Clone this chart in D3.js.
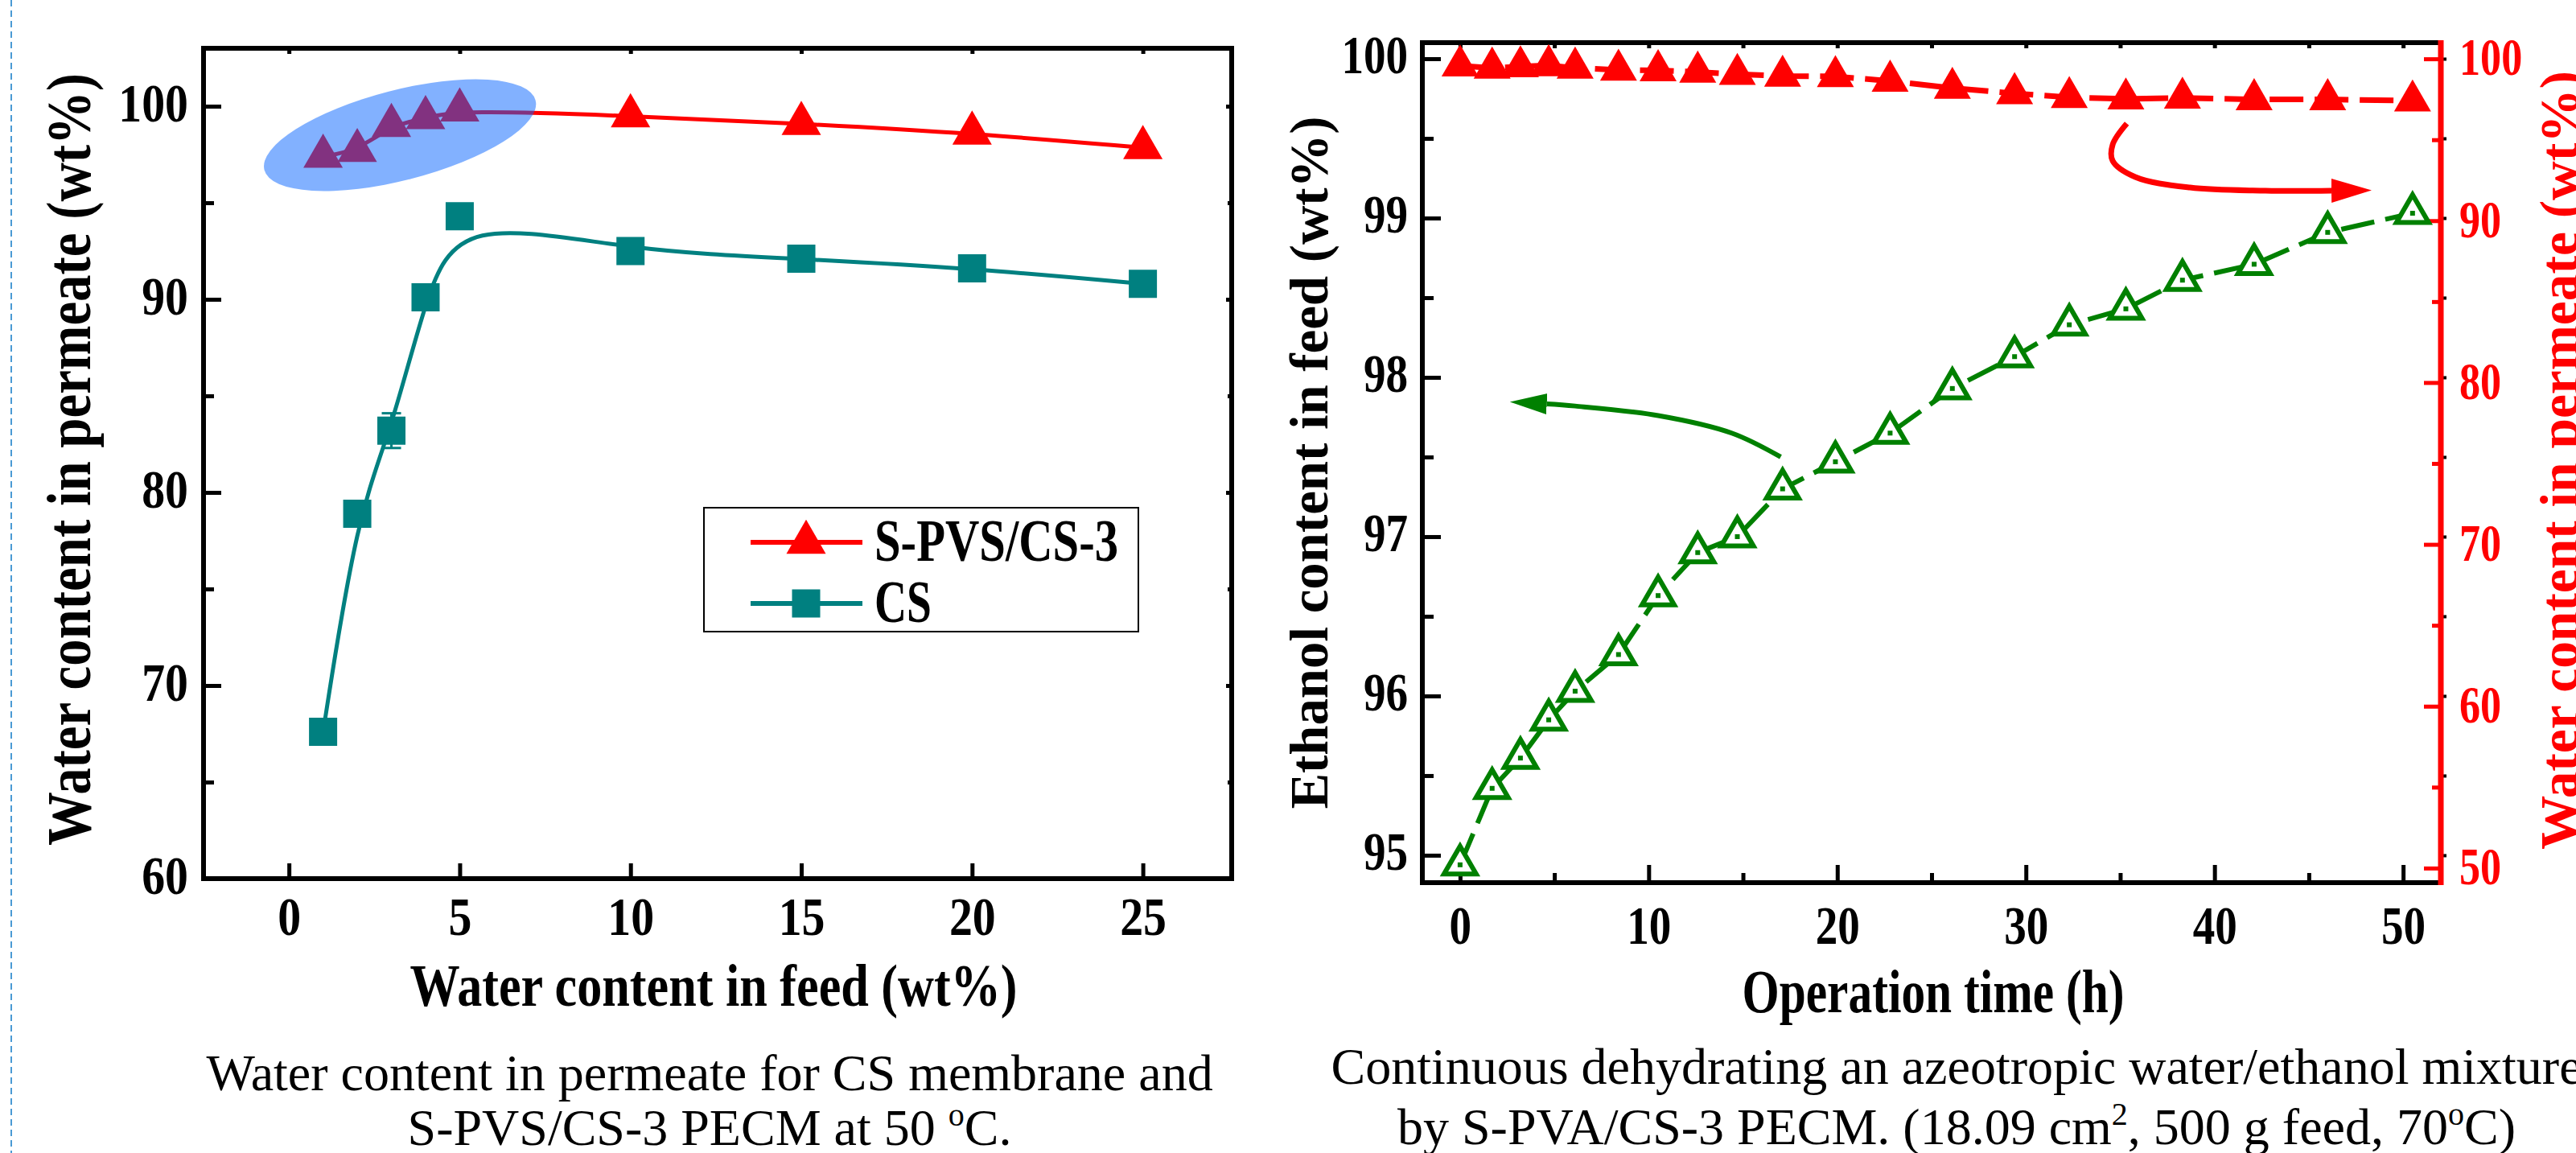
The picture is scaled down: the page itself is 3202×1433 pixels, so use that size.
<!DOCTYPE html>
<html>
<head>
<meta charset="utf-8">
<script src="https://cdn.jsdelivr.net/npm/d3@7"></script>
<style>
  body { margin: 0; background: #fff; }
  svg { display: block; }
</style>
</head>
<body>
<script>
// ---- data ----
// left panel: water content in feed vs water content in permeate
const feedWater = [1, 2, 3, 4, 5, 10, 15, 20, 25];
const permSPVS = [97.4, 97.7, 99.0, 99.4, 99.8, 99.5, 99.1, 98.6, 97.85];
const permCS = [67.6, 78.9, 83.2, 90.1, 94.3, 92.5, 92.1, 91.6, 90.8];
const permCSerr = [0.6, 0.3, 0.9, 0.3, 0.4, 0.3, 0.4, 0.3, 0.5];
const seriesNames = ["S-PVS/CS-3", "CS"];
const feedTicks = [0, 5, 10, 15, 20, 25];
const permTicks = [60, 70, 80, 90, 100];
const permMinor = [65, 75, 85, 95];

// right panel: continuous run
const opTime = [0, 1.7, 3.2, 4.7, 6.1, 8.4, 10.5, 12.6, 14.7, 17.1, 19.9, 22.8, 26.1, 29.4, 32.3, 35.3, 38.3, 42.1, 46.0, 50.5];
const ethanolFeed = [94.94, 95.42, 95.61, 95.85, 96.03, 96.26, 96.63, 96.90, 97.00, 97.30, 97.47, 97.65, 97.93, 98.13, 98.33, 98.43, 98.61, 98.71, 98.91, 99.03];
const waterPerm = [99.57, 99.44, 99.52, 99.59, 99.44, 99.31, 99.28, 99.19, 99.05, 98.94, 98.91, 98.63, 98.19, 97.86, 97.62, 97.53, 97.58, 97.49, 97.49, 97.41];
const timeTicks = [0, 10, 20, 30, 40, 50];
const timeMinor = [5, 15, 25, 35, 45];
const ethTicks = [95, 96, 97, 98, 99, 100];
const ethMinor = [95.5, 96.5, 97.5, 98.5, 99.5];
const waterTicks = [50, 60, 70, 80, 90, 100];
const waterMinor = [55, 65, 75, 85, 95];

// annotations (in data units)
const highlightCenter = [3.25, 98.5];
const greenArrow = [[17.0, 97.5], [14.4, 97.65], [10.5, 97.76], [6.1, 97.82], [4.6, 97.833]];
const redArrow = [[35.35, 96.0], [34.6, 94.7], [34.6, 93.7], [35.8, 92.7], [38.7, 92.05], [42.7, 91.85], [46.2, 91.85]];

const FONT = '"Liberation Serif","Times New Roman",Times,serif';
const intFmt = d3.format("d");

let svg = d3.select("body").append("svg")
  .attr("width", 3202)
  .attr("height", 1433)
  .style("font-family", FONT);

// dashed blue border on the far left
svg.append("line")
  .attr("x1", 14).attr("x2", 14).attr("y1", 0).attr("y2", 1433)
  .attr("stroke", "#4a9ad4").attr("stroke-width", 2)
  .attr("stroke-dasharray", "8,5");

// helper: draw an axis, then restyle it
function drawAxis(parent, axis, pos, o) {
  let g = parent.append("g").attr("transform", pos).call(axis);
  g.select(".domain").remove();
  g.attr("font-family", FONT).attr("font-size", o.fs || 68).attr("font-weight", "bold");
  g.selectAll(".tick line").attr("stroke", o.color || "#000").attr("stroke-width", o.tw || 5);
  g.selectAll(".tick text").attr("fill", o.color || "#000");
  if (o.sx) g.selectAll(".tick text").attr("transform", "scale(" + o.sx + ",1)");
  if (o.base != null) g.selectAll(".tick text").attr("y", o.base).attr("dy", null);
  if (o.dy) g.selectAll(".tick text").attr("dy", o.dy);
  return g;
}

// helper: bold title squeezed to a measured length
function title(str, x, y, size, len, angle, color) {
  return svg.append("text")
    .attr("transform", "translate(" + x + "," + y + ") rotate(" + (angle || 0) + ")")
    .attr("text-anchor", "middle")
    .attr("font-size", size)
    .attr("font-weight", "bold")
    .attr("fill", color || "#000")
    .attr("textLength", len)
    .attr("lengthAdjust", "spacingAndGlyphs")
    .text(str);
}

/* ================= LEFT PANEL ================= */
let xL = d3.scaleLinear().domain([-2.5, 27.6]).range([253, 1531]);
let yL = d3.scaleLinear().domain([60, 103]).range([1092, 60]);
let left = svg.append("g");

left.append("rect")
  .attr("x", xL.range()[0]).attr("y", yL.range()[1])
  .attr("width", xL.range()[1] - xL.range()[0])
  .attr("height", yL.range()[0] - yL.range()[1])
  .attr("fill", "none").attr("stroke", "#000").attr("stroke-width", 6);

drawAxis(left, d3.axisBottom(xL).tickValues(feedTicks).tickFormat(intFmt).tickSize(-19).tickSizeOuter(0),
  "translate(0," + yL.range()[0] + ")", {base: 70, sx: 0.85});
drawAxis(left, d3.axisTop(xL).tickValues(feedTicks).tickSize(-7).tickSizeOuter(0).tickFormat(""),
  "translate(0," + yL.range()[1] + ")", {});
drawAxis(left, d3.axisLeft(yL).tickValues(permTicks).tickFormat(intFmt).tickSize(-22).tickSizeOuter(0).tickPadding(19 / 0.85),
  "translate(" + xL.range()[0] + ",0)", {sx: 0.85, dy: "0.27em"});
drawAxis(left, d3.axisLeft(yL).tickValues(permMinor).tickSize(-13).tickSizeOuter(0).tickFormat(""),
  "translate(" + xL.range()[0] + ",0)", {});
drawAxis(left, d3.axisRight(yL).tickValues(permTicks).tickSize(-7).tickSizeOuter(0).tickFormat(""),
  "translate(" + xL.range()[1] + ",0)", {});
drawAxis(left, d3.axisRight(yL).tickValues(permMinor).tickSize(-5).tickSizeOuter(0).tickFormat(""),
  "translate(" + xL.range()[1] + ",0)", {});

let spvsData = feedWater.map((x, i) => [x, permSPVS[i]]);
let csData = feedWater.map((x, i) => [x, permCS[i], permCSerr[i]]);

let smoothL = d3.line().x(d => xL(d[0])).y(d => yL(d[1])).curve(d3.curveBasis);

left.append("path").datum(csData).attr("d", smoothL)
  .attr("fill", "none").attr("stroke", "#008080").attr("stroke-width", 5);
left.append("path").datum(spvsData).attr("d", smoothL)
  .attr("fill", "none").attr("stroke", "#ff0000").attr("stroke-width", 5);

// error bars for CS
let eb = left.selectAll(".eb").data(csData).enter().append("g").attr("class", "eb")
  .attr("stroke", "#008080").attr("stroke-width", 3);
eb.append("line").attr("x1", d => xL(d[0])).attr("x2", d => xL(d[0]))
  .attr("y1", d => yL(d[1] - d[2])).attr("y2", d => yL(d[1] + d[2]));
eb.append("line").attr("x1", d => xL(d[0]) - 12).attr("x2", d => xL(d[0]) + 12)
  .attr("y1", d => yL(d[1] + d[2])).attr("y2", d => yL(d[1] + d[2]));
eb.append("line").attr("x1", d => xL(d[0]) - 12).attr("x2", d => xL(d[0]) + 12)
  .attr("y1", d => yL(d[1] - d[2])).attr("y2", d => yL(d[1] - d[2]));

let triBig = d3.symbol(d3.symbolTriangle, 1040);
let sqBig = d3.symbol(d3.symbolSquare, 1225);

left.selectAll(".sq").data(csData).enter().append("path")
  .attr("d", sqBig).attr("fill", "#008080")
  .attr("transform", d => "translate(" + xL(d[0]) + "," + yL(d[1]) + ")");
left.selectAll(".tri").data(spvsData).enter().append("path")
  .attr("d", triBig).attr("fill", "#ff0000")
  .attr("transform", d => "translate(" + xL(d[0]) + "," + yL(d[1]) + ")");

// legend
let legend = left.append("g");
legend.append("rect").attr("x", 875).attr("y", 631).attr("width", 540).attr("height", 154)
  .attr("fill", "#fff").attr("stroke", "#000").attr("stroke-width", 2);
let legRows = [
  {name: seriesNames[0], color: "#ff0000", sym: triBig, y: 674, len: 303},
  {name: seriesNames[1], color: "#008080", sym: sqBig, y: 750, len: 71}
];
legRows.forEach(r => {
  legend.append("line").attr("x1", 933).attr("x2", 1072).attr("y1", r.y).attr("y2", r.y)
    .attr("stroke", r.color).attr("stroke-width", 6);
  legend.append("path").attr("d", r.sym).attr("fill", r.color)
    .attr("transform", "translate(1002," + r.y + ")");
  legend.append("text").attr("x", 1087).attr("y", r.y + 23)
    .attr("font-size", 74).attr("font-weight", "bold")
    .attr("textLength", r.len).attr("lengthAdjust", "spacingAndGlyphs")
    .text(r.name);
});

// translucent highlight ellipse
left.append("ellipse")
  .attr("transform", "translate(" + xL(highlightCenter[0]) + "," + yL(highlightCenter[1]) + ") rotate(-14.4)")
  .attr("rx", 174).attr("ry", 56)
  .attr("fill", "rgb(6,100,255)").attr("fill-opacity", 0.5);

title("Water content in feed (wt%)", 887, 1250, 73, 755, 0);
title("Water content in permeate (wt%)", 112, 571, 78, 960, -90);

/* ================= RIGHT PANEL ================= */
let xR = d3.scaleLinear().domain([-2, 52]).range([1768, 3034]);
let yE = d3.scaleLinear().domain([94.828, 100.101]).range([1097, 53]);
let yW = d3.scaleLinear().domain([49.1, 101]).range([1097, 53]);
let right = svg.append("g");

right.append("path")
  .attr("d", "M" + xR.range()[1] + "," + yE.range()[1] + "H" + xR.range()[0] +
    "V" + yE.range()[0] + "H" + xR.range()[1])
  .attr("fill", "none").attr("stroke", "#000").attr("stroke-width", 6)
  .attr("stroke-linecap", "square");

drawAxis(right, d3.axisBottom(xR).tickValues(timeTicks).tickFormat(intFmt).tickSize(-22).tickSizeOuter(0),
  "translate(0," + yE.range()[0] + ")", {base: 76, sx: 0.81});
drawAxis(right, d3.axisBottom(xR).tickValues(timeMinor).tickSize(-12).tickSizeOuter(0).tickFormat(""),
  "translate(0," + yE.range()[0] + ")", {});
drawAxis(right, d3.axisTop(xR).tickValues(timeTicks.concat(timeMinor)).tickSize(-7).tickSizeOuter(0).tickFormat(""),
  "translate(0," + yE.range()[1] + ")", {});
drawAxis(right, d3.axisLeft(yE).tickValues(ethTicks).tickFormat(intFmt).tickSize(-23).tickSizeOuter(0).tickPadding(18 / 0.81),
  "translate(" + xR.range()[0] + ",0)", {sx: 0.81, dy: "0.26em"});
drawAxis(right, d3.axisLeft(yE).tickValues(ethMinor).tickSize(-14).tickSizeOuter(0).tickFormat(""),
  "translate(" + xR.range()[0] + ",0)", {});
drawAxis(right, d3.axisRight(yE).tickValues(ethTicks.concat(ethMinor)).tickSize(7).tickSizeOuter(0).tickFormat(""),
  "translate(" + xR.range()[1] + ",0)", {tw: 4});

// red right axis
drawAxis(right, d3.axisRight(yW).tickValues(waterTicks).tickFormat(intFmt).tickSize(-21).tickSizeOuter(0).tickPadding(23 / 0.79),
  "translate(" + xR.range()[1] + ",0)", {color: "#ff0000", fs: 66, sx: 0.79, dy: "0.3em"});
drawAxis(right, d3.axisRight(yW).tickValues(waterMinor).tickSize(-11).tickSizeOuter(0).tickFormat(""),
  "translate(" + xR.range()[1] + ",0)", {color: "#ff0000"});
right.append("line")
  .attr("x1", xR.range()[1]).attr("x2", xR.range()[1])
  .attr("y1", yW.range()[1] - 3).attr("y2", yW.range()[0] + 3)
  .attr("stroke", "#ff0000").attr("stroke-width", 7);

let waterData = opTime.map((t, i) => [t, waterPerm[i]]);
let ethData = opTime.map((t, i) => [t, ethanolFeed[i]]);

right.append("path").datum(waterData)
  .attr("d", d3.line().x(d => xR(d[0])).y(d => yW(d[1])))
  .attr("fill", "none").attr("stroke", "#ff0000").attr("stroke-width", 7)
  .attr("stroke-dasharray", "42,14");
right.append("path").datum(ethData)
  .attr("d", d3.line().x(d => xR(d[0])).y(d => yE(d[1])))
  .attr("fill", "none").attr("stroke", "#008000").attr("stroke-width", 6)
  .attr("stroke-dasharray", "42,14");

right.selectAll(".rtri").data(waterData).enter().append("path")
  .attr("d", d3.symbol(d3.symbolTriangle, 916)).attr("fill", "#ff0000")
  .attr("transform", d => "translate(" + xR(d[0]) + "," + yW(d[1]) + ")");

let gMark = right.selectAll(".gtri").data(ethData).enter().append("g")
  .attr("transform", d => "translate(" + xR(d[0]) + "," + yE(d[1]) + ")");
gMark.append("path").attr("d", d3.symbol(d3.symbolTriangle, 693))
  .attr("fill", "#fff").attr("stroke", "#008000").attr("stroke-width", 6);
gMark.append("rect").attr("x", -3).attr("y", -3).attr("width", 6).attr("height", 6)
  .attr("fill", "#008000");

// curved arrows
let defs = svg.append("defs");
[["ahGreen", "#008000", 46, 26], ["ahRed", "#ff0000", 50, 30]].forEach(a => {
  defs.append("marker").attr("id", a[0])
    .attr("markerUnits", "userSpaceOnUse")
    .attr("markerWidth", a[2] + 2).attr("markerHeight", a[3] + 2)
    .attr("refX", 0).attr("refY", a[3] / 2 + 1).attr("orient", "auto")
    .append("path")
    .attr("d", "M0,1L" + a[2] + "," + (a[3] / 2 + 1) + "L0," + (a[3] + 1) + "Z")
    .attr("fill", a[1]);
});
right.append("path").datum(greenArrow)
  .attr("d", d3.line().x(d => xR(d[0])).y(d => yE(d[1])).curve(d3.curveCatmullRom))
  .attr("fill", "none").attr("stroke", "#008000").attr("stroke-width", 6)
  .attr("marker-end", "url(#ahGreen)");
right.append("path").datum(redArrow)
  .attr("d", d3.line().x(d => xR(d[0])).y(d => yW(d[1])).curve(d3.curveCatmullRom))
  .attr("fill", "none").attr("stroke", "#ff0000").attr("stroke-width", 7)
  .attr("marker-end", "url(#ahRed)");

title("Operation time (h)", 2403, 1258, 76, 475, 0);
title("Ethanol content in feed (wt%)", 1650, 575, 68, 861, -90);
title("Water content in permeate (wt%)", 3204, 572, 68, 968, -90, "#ff0000");

/* ================= CAPTIONS ================= */
// parts: plain strings, or {sup: "..."} for a superscript
function caption(x, y, parts) {
  let t = svg.append("text").attr("x", x).attr("y", y)
    .attr("text-anchor", "middle").attr("font-size", 64);
  let raised = false;
  parts.forEach(p => {
    if (typeof p === "object") {
      t.append("tspan").attr("font-size", 40).attr("dy", -24).text(p.sup);
      raised = true;
    } else {
      t.append("tspan").attr("dy", raised ? 24 : null).text(p);
      raised = false;
    }
  });
}
caption(882, 1355, ["Water content in permeate for CS membrane and"]);
caption(882, 1423, ["S-PVS/CS-3 PECM at 50 ", {sup: "o"}, "C."]);
caption(2432, 1347, ["Continuous dehydrating an azeotropic water/ethanol mixture"]);
caption(2432, 1422, ["by S-PVA/CS-3 PECM. (18.09 cm", {sup: "2"}, ", 500 g feed, 70", {sup: "o"}, "C)"]);
</script>
</body>
</html>
